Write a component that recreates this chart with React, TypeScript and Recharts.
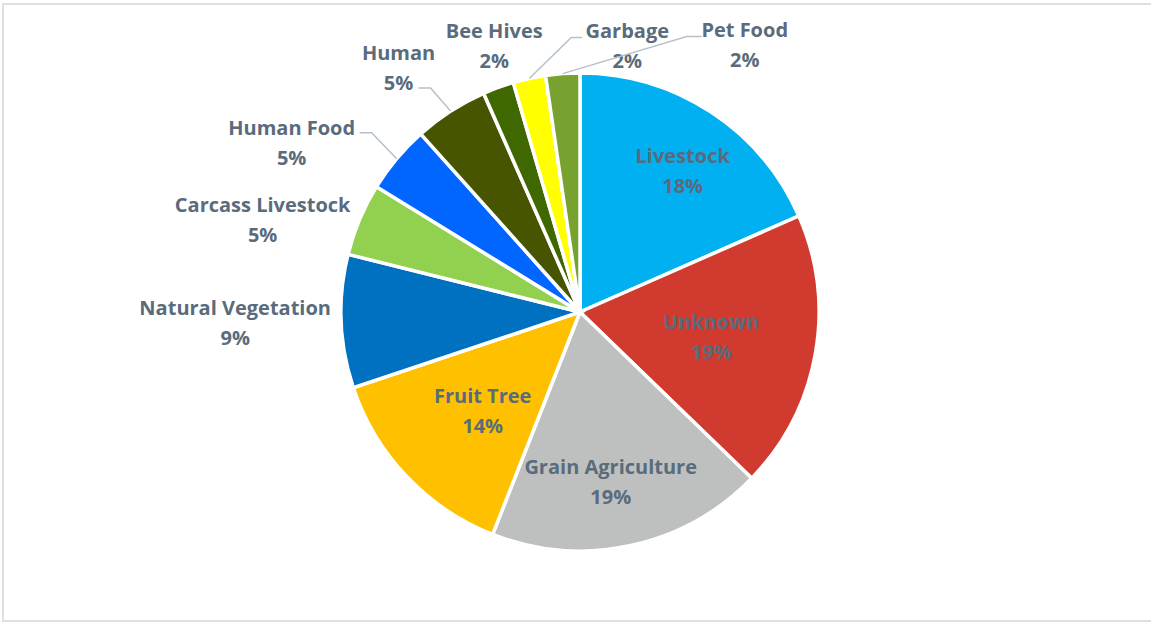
import React from 'react';
import { PieChart, Pie, Cell } from 'recharts';

const categories = [
  'Livestock',
  'Unknown',
  'Grain Agriculture',
  'Fruit Tree',
  'Natural Vegetation',
  'Carcass Livestock',
  'Human Food',
  'Human',
  'Bee Hives',
  'Garbage',
  'Pet Food',
];
const values = [18.4, 18.8, 18.7, 13.9, 9.0, 4.9, 4.6, 5.0, 2.1, 2.2, 2.3];
const colors = [
  '#00B0F0',
  '#D13B2F',
  '#BDC0BF',
  '#FFC000',
  '#0070C0',
  '#92D050',
  '#0066FF',
  '#475400',
  '#3F6800',
  '#FFFF00',
  '#77A22F',
];

// label layout: offset of label block centre from the slice's outer mid point;
// optional leader line (elbow + end offsets from the same point)
const labelLayout = [
  { dx: -28, dy: 59 },
  { dx: -104, dy: -18 },
  { dx: -20, dy: -64 },
  { dx: 76, dy: -66 },
  { dx: -106, dy: 1 },
  { dx: -97, dy: 0 },
  { dx: -105, dy: -16, line: [[-25, -26], [-37, -26]] },
  { dx: -52, dy: -44, line: [[-20, -23], [-32, -23]] },
  { dx: -4, dy: -42 },
  { dx: 98, dy: -33, line: [[42, -41], [53, -41]] },
  { dx: 182, dy: -29, line: [[124, -37], [139, -37]] },
];

const data = categories.map((name, i) => ({ name, value: values[i] }));

const TEXT_COLOR = '#5A6B7C';
const FONT = '"Open Sans", Lato, sans-serif';

const renderLabel = (props: any) => {
  const { cx, cy, midAngle, outerRadius, index, percent, name } = props;
  const RAD = Math.PI / 180;
  const ax = Number(cx) + outerRadius * Math.cos(-midAngle * RAD);
  const ay = Number(cy) + outerRadius * Math.sin(-midAngle * RAD);
  const lay = labelLayout[index];
  const x = ax + lay.dx;
  const y = ay + lay.dy;
  const pct = Math.round(percent * 100) + '%';
  return (
    <g key={'lbl' + index}>
      {lay.line && (
        <polyline
          points={`${ax},${ay} ${ax + lay.line[0][0]},${ay + lay.line[0][1]} ${ax + lay.line[1][0]},${ay + lay.line[1][1]}`}
          fill="none"
          stroke="#B7C1CB"
          strokeWidth={1.5}
        />
      )}
      <text
        x={x}
        y={y}
        textAnchor="middle"
        fill={TEXT_COLOR}
        fontFamily={FONT}
        fontWeight={700}
        fontSize={20}
      >
        <tspan x={x} y={y - 15} dominantBaseline="central">{name}</tspan>
        <tspan x={x} y={y + 15} dominantBaseline="central">{pct}</tspan>
      </text>
    </g>
  );
};

export default function App() {
  return (
    <div style={{ position: 'absolute', left: 0, top: 0, width: 1151, height: 622, background: '#fff', overflow: 'hidden' }}>
      <div
        style={{
          position: 'absolute',
          left: 2,
          top: 3,
          width: 1160,
          height: 615,
          border: '2px solid #DDE1E5',
        }}
      />
      <div style={{ position: 'absolute', left: 0, top: 0 }}>
        <PieChart width={1151} height={622} margin={{ top: 0, right: 0, bottom: 0, left: 0 }}>
          <Pie
            data={data}
            dataKey="value"
            nameKey="name"
            cx={580}
            cy={312}
            outerRadius={239}
            startAngle={90}
            endAngle={-270}
            stroke="#FFFFFF"
            strokeWidth={3.5}
            label={renderLabel}
            labelLine={false}
            isAnimationActive={false}
          >
            {data.map((d, i) => (
              <Cell key={d.name} fill={colors[i]} />
            ))}
          </Pie>
        </PieChart>
      </div>
    </div>
  );
}
